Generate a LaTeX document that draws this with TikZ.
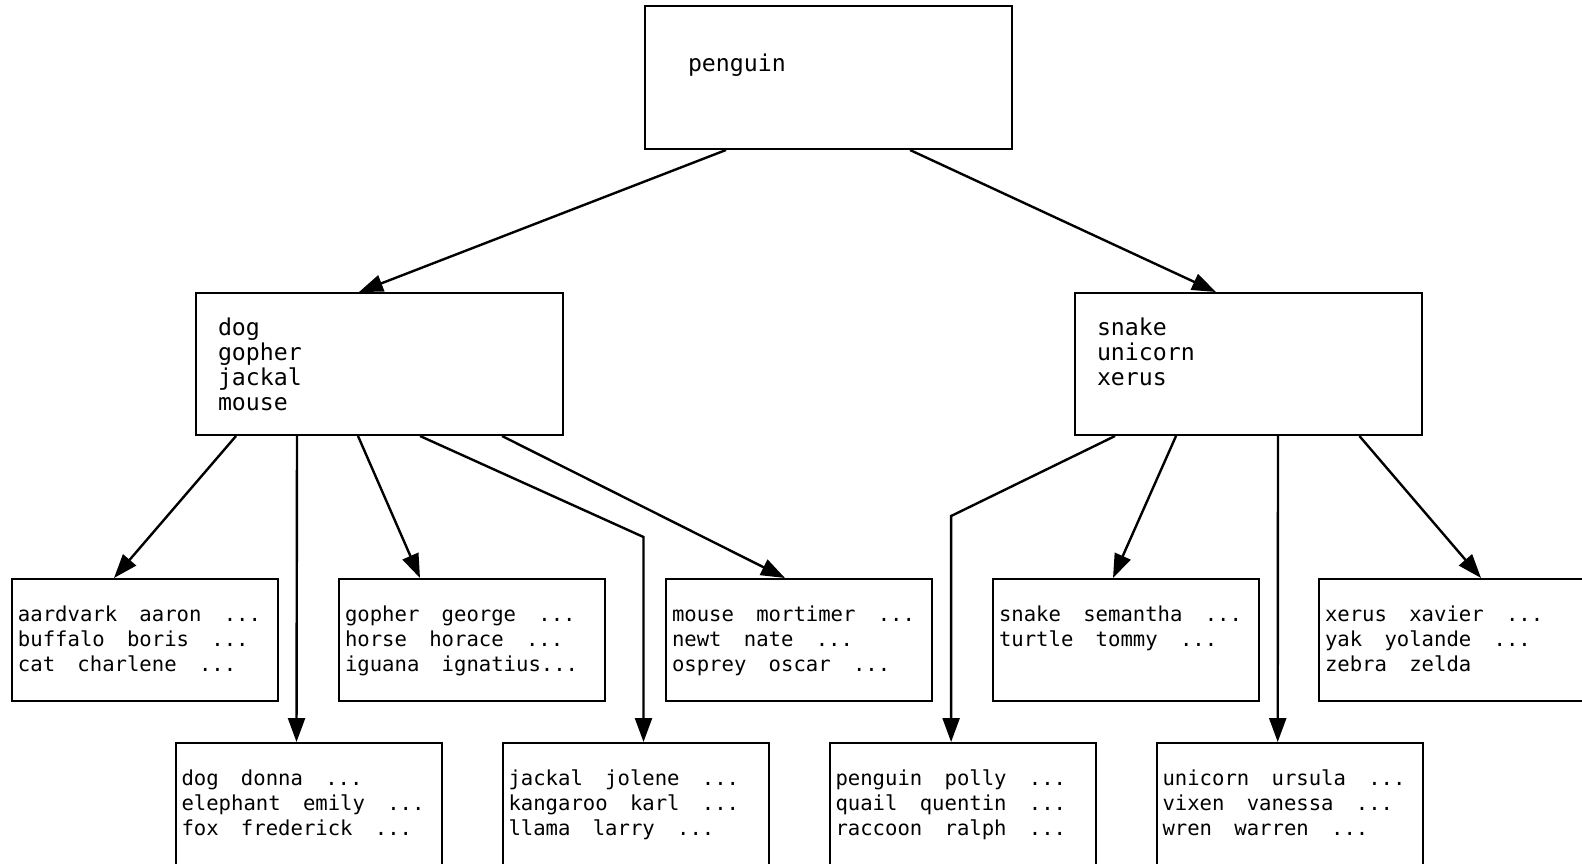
\documentclass[tikz,border=0pt]{standalone}
\usepackage{fontspec}
\setmonofont{DejaVu Sans Mono}
\usepackage{tikz}
\usetikzlibrary{arrows.meta}
\newcommand{\gap}{\hspace{11.15pt}}

\begin{document}
\begin{tikzpicture}[x=0.5pt,y=-0.5pt,
  box/.style={draw=black, line width=1pt, anchor=north west, align=left, inner ysep=0pt,
    font=\ttfamily\fontsize{11.6pt}{12.5pt}\selectfont},
  leaf/.style={box, text width=127pt, inner xsep=3pt, text height=21pt, text depth=40pt,
    font=\ttfamily\fontsize{10.3pt}{12.5pt}\selectfont},
  mid/.style={box, inner xsep=11pt, text height=21pt, text depth=50pt},
  edge/.style={black, line width=1.2pt, ->, >={Triangle[length=12pt,width=8.5pt]}}]
  \useasboundingbox (0,0) rectangle (1582,863);
  % root
  \node[box, text width=140.5pt, inner xsep=21.5pt, text height=32.5pt, text depth=39pt] (root) at (644,5) {penguin};
  % second row
   \node[mid, text width=161.5pt] (midL) at (195,292) {dog\\gopher\\jackal\\mouse};
   \node[mid, text width=151.5pt] (midR) at (1074,292) {snake\\unicorn\\xerus};
  % leaves, upper row
    \node[leaf] (aard) at (11,578) {aardvark\gap aaron\gap ...\\buffalo\gap boris\gap ...\\cat\gap charlene\gap ...};
    \node[leaf] (goph) at (338,578) {gopher\gap george\gap ...\\horse\gap horace\gap ...\\iguana\gap ignatius...};
    \node[leaf] (mous) at (665,578) {mouse\gap mortimer\gap ...\\newt\gap nate\gap ...\\osprey\gap oscar\gap ...};
    \node[leaf] (snak) at (992,578) {snake\gap semantha\gap ...\\turtle\gap tommy\gap ...};
    \node[leaf] (xeru) at (1318,578) {xerus\gap xavier\gap ...\\yak\gap yolande\gap ...\\zebra\gap zelda};
  % leaves, lower row
    \node[leaf] (dog) at (174.5,742) {dog\gap donna\gap ...\\elephant\gap emily\gap ...\\fox\gap frederick\gap ...};
    \node[leaf] (jack) at (501.5,742) {jackal\gap jolene\gap ...\\kangaroo\gap karl\gap ...\\llama\gap larry\gap ...};
    \node[leaf] (peng) at (828.5,742) {penguin\gap polly\gap ...\\quail\gap quentin\gap ...\\raccoon\gap ralph\gap ...};
    \node[leaf] (unic) at (1155.5,742) {unicorn\gap ursula\gap ...\\vixen\gap vanessa\gap ...\\wren\gap warren\gap ...};
  % edges
   \draw[edge] ([xshift=41pt]root.south west) -- ([xshift=82pt]midL.north west);
   \draw[edge] ([xshift=133pt]root.south west) -- ([xshift=71pt]midR.north west);
   \draw[edge] ([xshift=20.5pt]midL.south west) -- ([xshift=51.5pt]aard.north west);
   \draw[edge] ([xshift=51pt]midL.south west) -- ([xshift=61pt]dog.north west);
   \draw[edge] ([xshift=81.5pt]midL.south west) -- ([xshift=41pt]goph.north west);
   \draw[edge] ([xshift=112.5pt]midL.south west) -- ([xshift=71pt,yshift=102.5pt]jack.north west) -- ([xshift=71pt]jack.north west);
   \draw[edge] ([xshift=153.5pt]midL.south west) -- ([xshift=60pt]mous.north west);
   \draw[edge] ([xshift=20.5pt]midR.south west) -- ([xshift=61.3pt,yshift=113pt]peng.north west) -- ([xshift=61.3pt]peng.north west);
   \draw[edge] ([xshift=51pt]midR.south west) -- ([xshift=60.5pt]snak.north west);
   \draw[edge] ([xshift=102pt]midR.south west) -- ([xshift=61.1pt]unic.north west);
   \draw[edge] ([xshift=142.7pt]midR.south west) -- ([xshift=81.5pt]xeru.north west);
\end{tikzpicture}
\end{document}
